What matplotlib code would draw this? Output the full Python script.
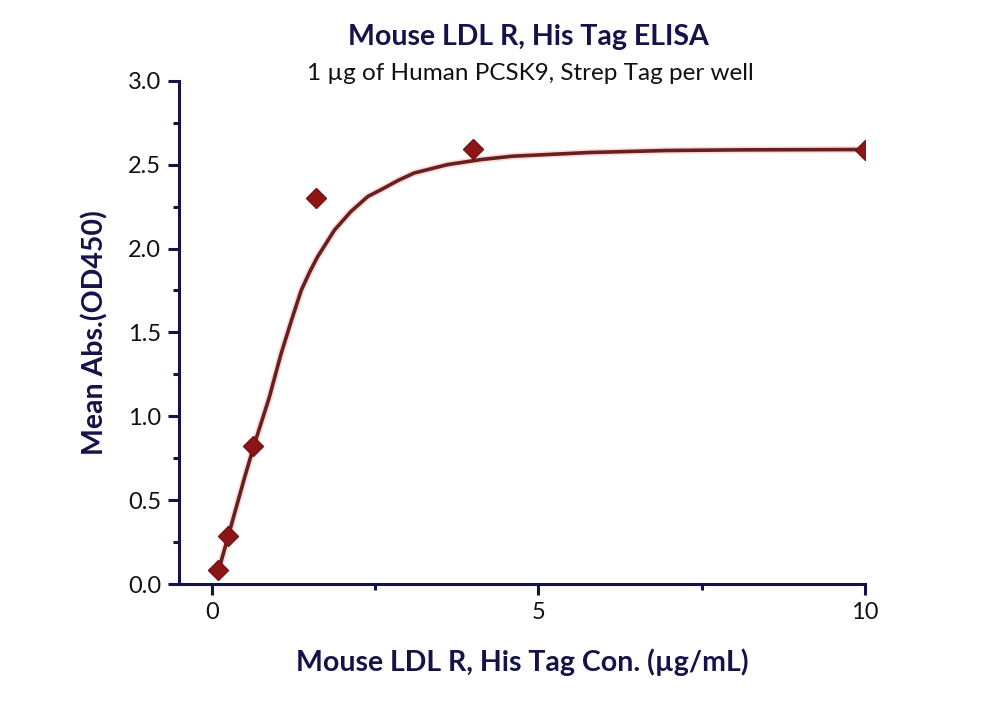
import matplotlib
matplotlib.use("Agg")
import matplotlib.pyplot as plt
import matplotlib.patheffects as pe
from matplotlib.ticker import MultipleLocator

# measured points (ug/mL, OD450)
conc = [0.1024, 0.256, 0.64, 1.6, 4.0, 10.0]
od450 = [0.085, 0.286, 0.82, 2.30, 2.594, 2.59]

# fitted curve
fit_x = [0.107, 0.254, 0.5, 0.643, 0.88, 1.06, 1.22, 1.37, 1.5, 1.62, 1.75, 1.88,
         2.13, 2.39, 2.59, 2.85, 3.10, 3.61, 4.12, 4.6, 5.77, 6.95, 8.13, 10.0]
fit_y = [0.083, 0.286, 0.63, 0.82, 1.11, 1.37, 1.57, 1.75, 1.86, 1.95, 2.03, 2.11,
         2.22, 2.31, 2.35, 2.405, 2.45, 2.50, 2.53, 2.55, 2.572, 2.584, 2.588, 2.59]

title = "Mouse LDL R, His Tag ELISA"
subtitle = "1 \u00b5g of Human PCSK9, Strep Tag per well"
xlabel = "Mouse LDL R, His Tag Con. (\u00b5g/mL)"
ylabel = "Mean Abs.(OD450)"

navy = "#13134a"
plt.rcParams['font.family'] = ['Lato', 'DejaVu Sans']

fig = plt.figure(figsize=(10, 7.02), dpi=100)
ax = fig.add_axes([0.179, 0.168, 0.686, 0.717])

ax.plot(fit_x, fit_y, color="#6a1f1f", linewidth=2.6, zorder=3,
        path_effects=[pe.Stroke(linewidth=5, foreground="#f4c6c6", alpha=0.6), pe.Normal()])
ax.plot(conc, od450, linestyle="none", marker="D", markersize=10,
        color="#8e1515", markeredgecolor="#7a1010", zorder=4)

ax.set_xlim(-0.5, 10)
ax.set_ylim(0, 3.0)
ax.xaxis.set_major_locator(MultipleLocator(5))
ax.xaxis.set_minor_locator(MultipleLocator(2.5))
ax.yaxis.set_major_locator(MultipleLocator(0.5))
ax.yaxis.set_minor_locator(MultipleLocator(0.25))

for side in ("top", "right"):
    ax.spines[side].set_visible(False)
for side in ("left", "bottom"):
    ax.spines[side].set_color(navy)
    ax.spines[side].set_linewidth(2.2)

ax.tick_params(which="major", direction="out", length=8, width=2.2,
               color=navy, labelsize=17, labelcolor="#111111", pad=5)
ax.tick_params(which="minor", direction="out", length=4.5, width=2.2, color=navy)

ax.set_xlabel(xlabel, fontsize=20.5, fontweight="bold", color=navy, labelpad=18)
ax.set_ylabel(ylabel, fontsize=20.5, fontweight="bold", color=navy, labelpad=14)

fig.text(0.528, 0.947, title, ha="center", va="center", fontsize=20.5,
         fontweight="bold", color=navy)
fig.text(0.53, 0.896, subtitle, ha="center", va="center", fontsize=17.5,
         color="#111111")

fig.savefig("out.png", dpi=100)
